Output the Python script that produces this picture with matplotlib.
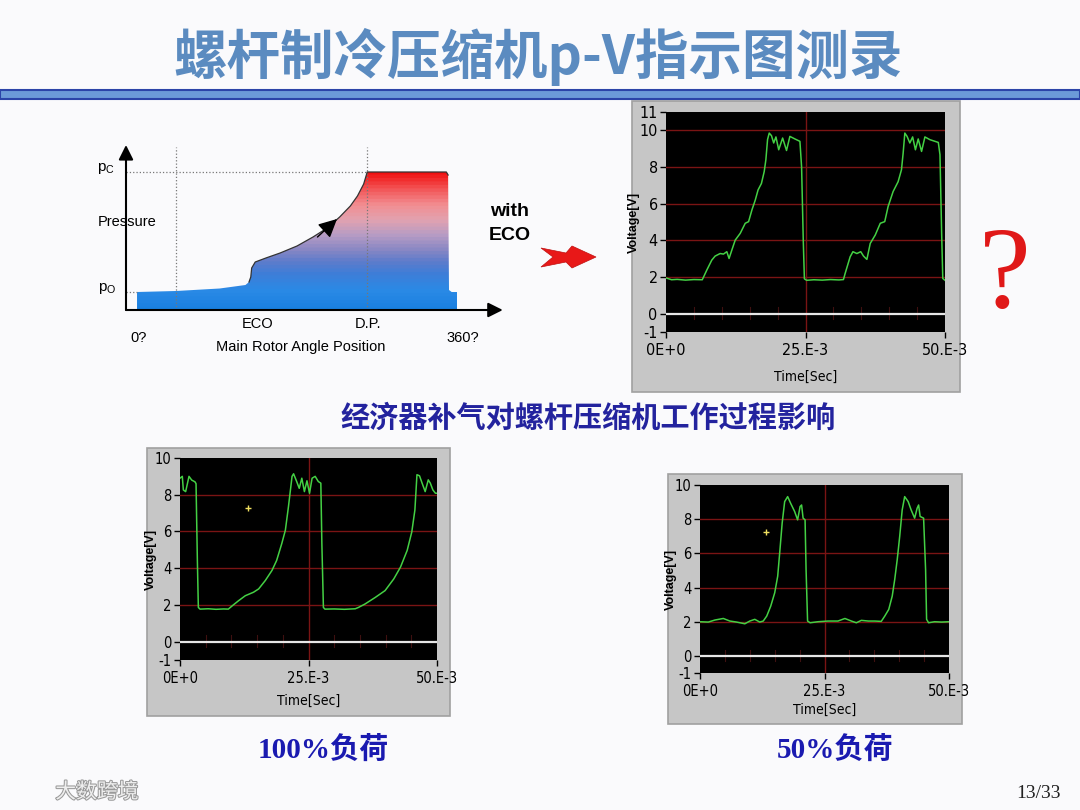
import matplotlib
matplotlib.use('Agg')
import matplotlib.pyplot as plt
import numpy as np
from matplotlib.patches import Rectangle, Polygon
from matplotlib.colors import LinearSegmentedColormap
import matplotlib.patheffects as pe
from matplotlib import font_manager as fm

# ---------------- data ----------------
# schematic p-angle diagram (angle in degrees, pressure in arbitrary units)
sch_angle = [0, 44, 93, 122, 126, 128, 129, 133, 145, 161, 180, 198, 214, 228, 240, 248, 255, 259,
             348, 350, 351, 354, 360]
sch_press = [1.8, 1.9, 2.15, 2.5, 2.8, 3.3, 4.2, 4.8, 5.2, 5.7, 6.4, 7.3, 8.2, 9.3, 10.4, 11.4, 12.6, 13.8,
             13.8, 13.5, 2.0, 1.8, 1.8]
p_o, p_c = 1.8, 13.8
eco_angle, dp_angle = 44, 259

# oscilloscope: with ECO (time in ms, voltage in V)
eco_t = [0, 1, 2, 3.5, 5, 6.5, 7.3, 8.2, 8.8, 9.7, 10.3, 10.9, 11.3, 11.8, 12.4, 13.3, 14.2, 14.8,
         15.4, 16.0, 16.5, 17.1, 17.6, 17.9, 18.2, 18.5, 18.9, 19.3, 19.7, 20.2, 20.9, 21.6, 22.2,
         23.1, 24.0, 24.3, 24.6, 24.8, 25.2, 26.5, 28.0, 29.5, 31.0, 31.8, 32.1, 33.0, 33.5, 34.2,
         34.9, 35.4, 36.0, 36.6, 37.5, 38.4, 39.2, 39.8, 40.7, 41.6, 42.2, 42.5, 42.8, 43.2, 43.7,
         44.2, 44.7, 45.2, 45.8, 46.4, 47.3, 48.8, 49.1, 49.4, 49.6, 50.0]
eco_v = [1.95, 1.85, 1.87, 1.83, 1.86, 1.85, 2.37, 2.92, 3.14, 3.28, 3.25, 3.38, 3.01, 3.47, 4.01,
         4.38, 4.93, 5.02, 5.66, 6.2, 6.75, 7.1, 7.75, 8.4, 9.5, 9.85, 9.71, 9.31, 9.64, 8.94, 9.58,
         8.9, 9.67, 9.53, 9.4, 8.0, 4.0, 1.9, 1.82, 1.85, 1.83, 1.86, 1.84, 1.86, 2.19, 3.1, 3.38,
         3.28, 3.38, 3.14, 2.96, 3.83, 4.29, 4.93, 5.02, 5.84, 6.66, 7.2, 7.85, 8.76, 9.85, 9.67,
         9.31, 9.64, 8.94, 9.53, 8.85, 9.64, 9.49, 9.34, 8.67, 4.38, 1.92, 1.82]

# oscilloscope: 100 % load
full_t = [0, 0.45, 0.65, 1.1, 1.75, 2.27, 2.92, 3.12, 3.38, 3.57, 3.9, 5.5, 7.0, 8.5, 9.4, 10.2,
          11.4, 12.7, 14.3, 15.3, 16.6, 17.9, 18.8, 19.8, 20.5, 21.1, 21.8, 22.1, 22.7, 23.2, 23.7,
          24.2, 24.7, 25.2, 25.7, 26.3, 26.9, 27.4, 27.6, 27.9, 28.2, 30.0, 32.0, 34.1, 34.7, 36.0,
          38.0, 39.9, 41.6, 42.9, 44.2, 45.1, 45.7, 46.1, 46.6, 47.1, 47.7, 48.3, 48.7, 49.2, 49.7, 50.0]
full_v = [8.9, 9.0, 8.26, 8.17, 9.0, 8.8, 8.7, 8.6, 4.4, 1.86, 1.77, 1.79, 1.76, 1.78, 1.77, 1.96,
          2.23, 2.5, 2.69, 2.87, 3.33, 3.88, 4.42, 5.34, 6.07, 7.35, 9.0, 9.14, 8.72, 8.35, 8.9,
          8.17, 8.76, 8.08, 8.9, 9.0, 8.72, 8.63, 5.34, 1.86, 1.77, 1.78, 1.76, 1.79, 1.86, 2.05,
          2.41, 2.78, 3.42, 4.06, 4.97, 5.98, 7.17, 9.09, 9.03, 8.63, 8.17, 8.81, 8.63, 8.26, 8.08, 8.08]

# oscilloscope: 50 % load
half_t = [0, 1.67, 3.0, 4.68, 6.0, 7.35, 9.0, 10.0, 11.0, 12.0, 12.7, 13.4, 14.2, 15.0, 15.6, 16.0,
          16.5, 17.0, 17.6, 18.2, 19.0, 19.6, 20.1, 20.4, 20.7, 21.1, 21.3, 21.6, 22.1, 23.7, 25.7,
          27.7, 29.1, 30.4, 31.4, 32.4, 33.8, 35.1, 36.4, 37.1, 37.9, 38.6, 39.1, 39.6, 40.1, 40.6,
          41.1, 41.8, 42.4, 43.1, 43.6, 43.9, 44.2, 44.9, 45.3, 45.5, 45.9, 47.1, 48.5, 50.0]
half_v = [2.0, 1.98, 2.1, 2.19, 2.04, 1.98, 1.88, 2.04, 2.14, 1.98, 2.04, 2.33, 2.91, 3.69, 4.66,
          6.02, 7.77, 9.03, 9.32, 8.93, 8.45, 7.96, 8.74, 8.83, 8.06, 7.96, 5.05, 2.04, 1.94, 2.0,
          2.04, 2.04, 2.19, 2.04, 1.94, 2.08, 2.04, 2.04, 2.02, 2.33, 2.72, 3.5, 4.47, 5.63, 6.99,
          8.54, 9.32, 9.03, 8.54, 8.06, 8.64, 8.83, 8.16, 8.06, 5.05, 2.14, 1.94, 2.0, 1.98, 2.0]

marker_t = [5, 10, 15, 20, 30, 35, 40, 45]   # faint trigger marks along the zero line
cursor_full = (13.2, 7.26)
cursor_half = (13.2, 7.24)
x_ticks = [0, 25, 50]
x_ticklabels = ['0E+0', '25.E-3', '50.E-3']

# ---------------- layout helpers ----------------
W, H = 1080, 810
fig = plt.figure(figsize=(10.8, 8.1), dpi=100)
fig.patch.set_facecolor('#FAFAFC')
CJK = ['Noto Sans CJK SC', 'DejaVu Sans']
SANS = ['Liberation Sans', 'DejaVu Sans']
NARROW_FP = fm.FontProperties(family='DejaVu Sans', stretch='condensed')


def rect(x0, y0, x1, y1):
    return [x0 / W, 1 - y1 / H, (x1 - x0) / W, (y1 - y0) / H]


def fx(x):
    return x / W


def fy(y):
    return 1 - y / H


# ---------------- title & bar ----------------
fig.text(fx(538), fy(57), '螺杆制冷压缩机p-V指示图测录', ha='center', va='center',
         fontsize=38.5, color='#5B8BC0', fontweight='bold', family=CJK)
fig.add_artist(Rectangle((0, fy(99)), 1, 9 / H, transform=fig.transFigure,
                         facecolor='#6C9AD8', edgecolor='#2C44A8', lw=1.5))

# ---------------- schematic ----------------
ax = fig.add_axes(rect(126, 145, 503, 310))
ax.set_xlim(-12.4, 411.75)
ax.set_ylim(0, 16.5)
ax.axis('off')
poly_x = sch_angle + [360, 0]
poly_y = sch_press + [0, 0]
cmap = LinearSegmentedColormap.from_list('pv', [
    (0.0, '#1A80E0'), (1.8 / 13.8, '#2A8AE6'), (3.5 / 13.8, '#3E7ED8'), (4.8 / 13.8, '#5F7CCB'),
    (6.0 / 13.8, '#8A88C4'), (7.5 / 13.8, '#B89CC4'), (9.0 / 13.8, '#E2A2B0'),
    (10.5 / 13.8, '#F28E92'), (12.0 / 13.8, '#F35A5C'), (1.0, '#F01010')], N=40)
grad = np.linspace(0, 1, 200).reshape(-1, 1)
im = ax.imshow(grad, cmap=cmap, origin='lower', extent=[0, 360, 0, p_c], aspect='auto', zorder=1)
patch = Polygon(np.column_stack([poly_x, poly_y]), closed=True, facecolor='none', edgecolor='none')
ax.add_patch(patch)
im.set_clip_path(patch)
ax.plot(sch_angle[4:20], sch_press[4:20], color='#333333', lw=0.9, zorder=3)
# dotted guides
ax.plot([-12.4, dp_angle], [p_c, p_c], ls=':', color='#777777', lw=0.9, zorder=2)
ax.plot([-12.4, 0], [p_o, p_o], ls=':', color='#777777', lw=0.9, zorder=2)
ax.plot([eco_angle, eco_angle], [0, 16.3], ls=':', color='#777777', lw=0.9, zorder=2)
ax.plot([dp_angle, dp_angle], [0, 16.3], ls=':', color='#777777', lw=0.9, zorder=2)
# axes arrows
ax.annotate('', xy=(411.5, 0), xytext=(-12.4, 0),
            arrowprops=dict(arrowstyle='-|>', mutation_scale=22, color='black', lw=1.5,
                            shrinkA=0, shrinkB=0), annotation_clip=False)
ax.annotate('', xy=(-12.4, 16.5), xytext=(-12.4, 0),
            arrowprops=dict(arrowstyle='-|>', mutation_scale=22, color='black', lw=1.5,
                            shrinkA=0, shrinkB=0), annotation_clip=False)
ax.annotate('', xy=(225, 9.1), xytext=(203, 7.3),
            arrowprops=dict(arrowstyle='-|>', mutation_scale=28, color='black', lw=1,
                            shrinkA=0, shrinkB=0), zorder=5)

fig.text(fx(106), fy(168), r'p$_\mathregular{C}$', ha='center', va='center', fontsize=11, family=SANS)
fig.text(fx(127), fy(222), 'Pressure', ha='center', va='center', fontsize=10.5, family=SANS)
fig.text(fx(107), fy(289), r'p$_\mathregular{O}$', ha='center', va='center', fontsize=11, family=SANS)
fig.text(fx(139), fy(338), '0?', ha='center', va='center', fontsize=10.5, family=SANS)
fig.text(fx(258), fy(324), 'ECO', ha='center', va='center', fontsize=10.5, family=SANS)
fig.text(fx(368), fy(324), 'D.P.', ha='center', va='center', fontsize=10.5, family=SANS)
fig.text(fx(463), fy(338), '360?', ha='center', va='center', fontsize=10.5, family=SANS)
fig.text(fx(301), fy(347), 'Main Rotor Angle Position', ha='center', va='center', fontsize=10.5,
         family=SANS)
fig.text(fx(490), fy(212), 'with', ha='left', va='center', fontsize=14, fontweight='bold', family=SANS)
fig.text(fx(489), fy(236), 'ECO', ha='left', va='center', fontsize=14, fontweight='bold', family=SANS)

arrow_px = [(541, 248), (566, 253), (572, 246), (596, 257), (572, 268), (566, 262), (541, 267), (553, 257)]
fig.add_artist(Polygon([(fx(x), fy(y)) for x, y in arrow_px], closed=True,
                       transform=fig.transFigure, facecolor='#E81818', edgecolor='#C01010', lw=0.5))

fig.text(fx(1005), fy(279), '?', ha='center', va='center', fontsize=84, color='#E01818',
         family=['Liberation Serif', 'DejaVu Serif'])


# ---------------- oscilloscopes ----------------
def scope(panel, plot, t, v, ymax, yticks, ylab_x, xlab_y, fs, cursor=None):
    px0, py0, px1, py1 = panel
    fig.add_artist(Rectangle((fx(px0), fy(py1)), (px1 - px0) / W, (py1 - py0) / H,
                             transform=fig.transFigure, facecolor='#C6C6C6',
                             edgecolor='#A0A0A0', lw=1.2, zorder=-5))
    a = fig.add_axes(rect(*plot))
    a.set_facecolor('black')
    a.set_xlim(0, 50)
    a.set_ylim(-1, ymax)
    for g in [2, 4, 6, 8, 10]:
        if g < ymax:
            a.axhline(g, color='#7A1414', lw=1)
    a.axvline(25, color='#7A1414', lw=1)
    for m in marker_t:
        a.plot([m, m], [-0.3, 0.35], color='#3E1010', lw=0.8)
    a.axhline(0, color='#E6E6E6', lw=1.6)
    a.plot(t, v, color='#44D044', lw=1.1)
    if cursor is not None:
        a.plot([cursor[0]], [cursor[1]], marker='+', color='#F0E060', ms=5, mew=1)
    for s in a.spines.values():
        s.set_visible(False)
    a.set_xticks(x_ticks, x_ticklabels)
    a.set_yticks(yticks, [str(k) for k in yticks])
    a.tick_params(axis='both', length=4, width=1, color='black', labelsize=fs, pad=2)
    a.tick_params(axis='x', pad=4)
    for lbl in a.get_xticklabels() + a.get_yticklabels():
        lbl.set_fontproperties(NARROW_FP)
        lbl.set_fontsize(fs)
    a.set_ylabel('Voltage[V]', fontsize=9, fontweight='bold', family=SANS)
    a.yaxis.set_label_coords(ylab_x, 0.5)
    a.set_xlabel('Time[Sec]', fontproperties=NARROW_FP, fontsize=10)
    a.xaxis.set_label_coords(0.5, xlab_y)
    return a


scope((632, 101, 960, 392), (666, 112, 945, 332), eco_t, eco_v, 11,
      [-1, 0, 2, 4, 6, 8, 10, 11], -0.095, -0.17, 11.5)
scope((147, 448, 450, 716), (180, 458, 437, 660), full_t, full_v, 10,
      [-1, 0, 2, 4, 6, 8, 10], -0.09, -0.17, 10.5, cursor=cursor_full)
scope((668, 474, 962, 724), (700, 485, 949, 673), half_t, half_v, 10,
      [-1, 0, 2, 4, 6, 8, 10], -0.092, -0.16, 10.5, cursor=cursor_half)

# ---------------- captions ----------------
fig.text(fx(588), fy(418), '经济器补气对螺杆压缩机工作过程影响', ha='center', va='center',
         fontsize=21, color='#23239E', fontweight='bold', family=CJK)
SERIF_CJK = ['Liberation Serif', 'Noto Sans CJK SC']
fig.text(fx(323), fy(750), '100%负荷', ha='center', va='center', fontsize=21, color='#1A1AB0',
         fontweight='bold', family=SERIF_CJK)
fig.text(fx(835), fy(750), '50%负荷', ha='center', va='center', fontsize=21, color='#1A1AB0',
         fontweight='bold', family=SERIF_CJK)
fig.text(fx(1038), fy(793), '13/33', ha='center', va='center', fontsize=14, color='#222222',
         family=['Liberation Serif', 'DejaVu Serif'])
fig.text(fx(97), fy(792), '大数跨境', ha='center', va='center', fontsize=15, color='#EEEEEE',
         family=CJK, path_effects=[pe.withStroke(linewidth=1.5, foreground='#9A9A9A')])

fig.savefig('out.png', dpi=100, facecolor=fig.get_facecolor())
